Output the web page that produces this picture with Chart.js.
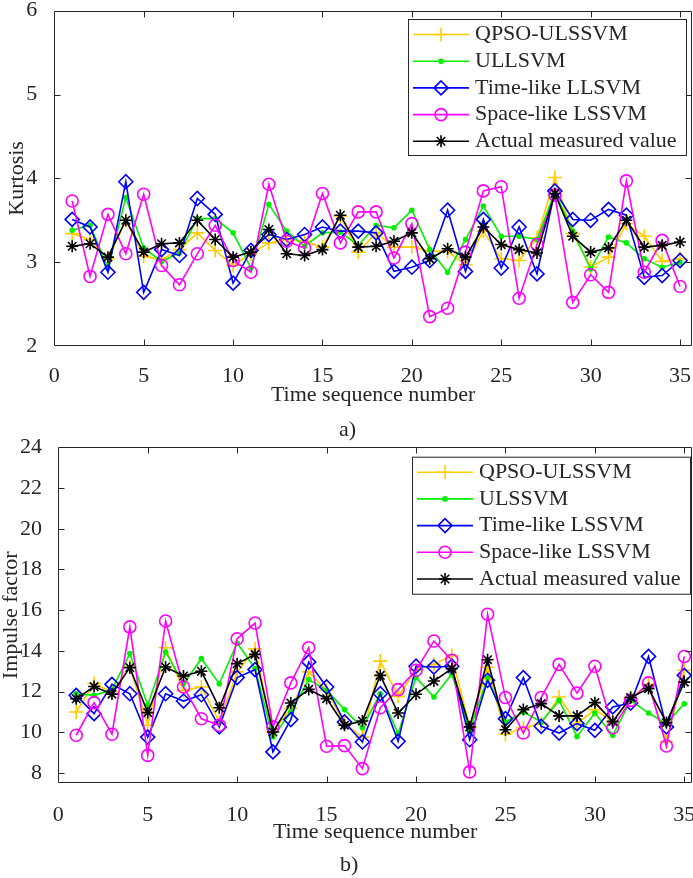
<!DOCTYPE html>
<html><head><meta charset="utf-8">
<script src="https://cdn.jsdelivr.net/npm/chart.js@4.4.1/dist/chart.umd.min.js"></script>
<style>
html,body{margin:0;padding:0;background:#fff;}
body{width:693px;height:878px;overflow:hidden;position:relative;font-family:"Liberation Serif","Times New Roman",serif;}
#c1{position:absolute;left:0;top:0;}
#c2{position:absolute;left:0;top:436px;}
.lab{position:absolute;font-size:22px;line-height:25px;color:#262626;font-family:"Liberation Serif","Times New Roman",serif;}
</style></head><body>
<canvas id="c1" width="693" height="436"></canvas>
<canvas id="c2" width="693" height="442"></canvas>
<div class="lab" style="left:339px;top:416px">a)</div>
<div class="lab" style="left:340px;top:851px">b)</div>
<script>
// ---------- data ----------
const seqNo = [1,2,3,4,5,6,7,8,9,10,11,12,13,14,15,16,17,18,19,20,21,22,23,24,25,26,27,28,29,30,31,32,33,34,35];
const xTicks = [0,5,10,15,20,25,30,35];

// a) Kurtosis
const kurtTicks = [2,3,4,5,6];
const kurtLabels = ['QPSO-ULSSVM','ULLSVM','Time-like LLSVM','Space-like LSSVM','Actual measured value'];
const qpsoK  = [3.34,3.27,3.04,3.50,3.07,3.03,3.15,3.35,3.14,2.96,3.10,3.23,3.27,3.25,3.18,3.55,3.12,3.35,3.18,3.18,3.13,3.13,2.97,3.37,3.04,3.02,3.29,4.01,3.34,2.94,3.06,3.46,3.31,3.01,3.04];
const ullK   = [3.38,3.44,2.93,3.77,3.17,3.01,3.11,3.52,3.52,3.35,2.93,3.69,3.37,3.19,3.35,3.36,3.20,3.44,3.41,3.62,3.15,2.88,3.27,3.67,3.31,3.31,3.27,3.84,3.37,2.92,3.30,3.23,3.04,2.94,3.00];
const timeK  = [3.51,3.42,2.88,3.96,2.64,3.15,3.08,3.76,3.57,2.75,3.14,3.33,3.27,3.33,3.42,3.37,3.37,3.35,2.89,2.94,3.02,3.62,2.89,3.51,2.93,3.42,2.86,3.85,3.51,3.50,3.63,3.56,2.82,2.84,3.02];
const spaceK = [3.73,2.83,3.57,3.10,3.81,2.96,2.73,3.10,3.44,3.02,2.88,3.93,3.25,3.17,3.82,3.23,3.60,3.60,3.05,3.46,2.35,2.45,3.12,3.85,3.90,2.57,3.21,3.80,2.52,2.85,2.64,3.97,2.88,3.26,2.71];
const actualK= [3.19,3.22,3.06,3.50,3.12,3.22,3.23,3.50,3.27,3.06,3.12,3.39,3.10,3.08,3.15,3.56,3.18,3.19,3.25,3.35,3.04,3.16,3.06,3.42,3.21,3.15,3.11,3.82,3.31,3.12,3.17,3.50,3.18,3.20,3.24];

// b) Impulse factor
const impTicks = [8,10,12,14,16,18,20,22,24];
const impLabels = ['QPSO-ULSSVM','ULSSVM','Time-like LSSVM','Space-like LSSVM','Actual measured value'];
const qpsoI  = [11.0,12.4,11.98,13.21,10.35,14.16,12.05,12.23,10.51,12.97,14.11,10.02,11.17,12.97,12.07,10.43,9.77,13.5,11.77,13.05,13.34,13.77,10.27,13.2,9.91,10.23,10.43,11.74,10.43,11.12,10.51,11.71,12.36,9.53,13.05];
const ulsI   = [11.9,11.82,12.1,13.87,11.33,13.95,12.39,13.62,12.39,14.39,13.13,9.77,11.0,12.59,12.07,11.12,10.23,11.9,9.94,12.69,11.74,12.87,10.10,12.69,10.51,11.0,10.51,11.57,9.80,10.95,9.86,11.57,10.95,10.43,11.41];
const timeI  = [11.82,10.92,12.36,11.9,9.77,11.9,11.54,11.85,10.27,12.69,13.08,9.04,10.63,13.46,12.23,10.51,9.53,11.9,9.56,13.25,13.21,13.25,9.64,12.56,10.67,12.69,10.30,9.97,10.43,10.10,11.25,11.44,13.73,10.27,12.80];
const spaceI = [9.86,11.46,9.91,15.18,8.87,15.47,12.23,10.67,10.35,14.6,15.37,10.27,12.43,14.16,9.32,9.35,8.22,11.21,12.10,13.05,14.49,13.54,8.06,15.8,11.71,9.97,11.71,13.34,11.93,13.25,10.23,11.57,12.43,9.33,13.73];
const actualI= [11.65,12.25,11.88,13.18,10.97,13.21,12.77,13.0,11.21,13.37,13.83,10.02,11.44,12.11,11.66,10.35,10.56,12.80,10.95,11.87,12.52,13.13,10.27,13.57,10.13,11.12,11.41,10.81,10.81,11.46,10.54,11.71,12.15,10.48,12.47];

// ---------- styles ----------
const AX = '#262626';
const FONT = '"Liberation Serif","Times New Roman",serif';
const styles = [
  {color:'#FFCC00', pointStyle:'cross',   radius:7, fill:'rgba(0,0,0,0)', order:5},
  {color:'#00F000', pointStyle:'circle',  radius:2, fill:'#00F000',       order:4},
  {color:'#0000FF', pointStyle:'rectRot', radius:7, fill:'rgba(0,0,0,0)', order:3},
  {color:'#FF00FF', pointStyle:'circle',  radius:6, fill:'rgba(0,0,0,0)', order:2},
  {color:'#000000', pointStyle:'star',    radius:6, fill:'rgba(0,0,0,0)', order:1}
];

function makeSets(labels, series){
  return series.map((vals,i)=>({
    label: labels[i],
    data: seqNo.map((s,j)=>({x:s, y:vals[j]})),
    borderColor: styles[i].color,
    backgroundColor: styles[i].fill,
    pointBackgroundColor: styles[i].fill,
    pointBorderColor: styles[i].color,
    pointStyle: styles[i].pointStyle,
    pointRadius: styles[i].radius,
    pointBorderWidth: 1.6,
    borderWidth: 1.6,
    tension: 0,
    order: styles[i].order
  }));
}

// ---------- MATLAB-like box, inward ticks and legend ----------
function drawMarker(ctx, style, r, x, y, stroke, fill){
  ctx.save();
  ctx.strokeStyle = stroke; ctx.fillStyle = fill; ctx.lineWidth = 1.6;
  if (Chart.helpers && Chart.helpers.drawPoint) {
    Chart.helpers.drawPoint(ctx, {pointStyle:style, radius:r, borderWidth:1.6, rotation:0}, x, y);
  }
  ctx.restore();
}
const matlabBox = {
  id:'matlabBox',
  afterDraw(chart, args, o){
    const {ctx, chartArea:a} = chart;
    const xs = chart.scales.x, ys = chart.scales.y;
    ctx.save();
    ctx.strokeStyle = AX; ctx.lineWidth = 1;
    const L = Math.round(a.left)+0.5, R = Math.round(a.right)-0.5, T = Math.round(a.top)+0.5, B = Math.round(a.bottom)-0.5;
    ctx.beginPath();
    ctx.moveTo(L,T); ctx.lineTo(R,T); ctx.lineTo(R,B); ctx.lineTo(L,B); ctx.closePath();
    const tl = 6;
    xs.ticks.forEach(t=>{
      const px = Math.round(xs.getPixelForValue(t.value))+0.5;
      if (px <= L+1 || px >= R-1) return;
      ctx.moveTo(px,B); ctx.lineTo(px,B-tl);
      ctx.moveTo(px,T); ctx.lineTo(px,T+tl);
    });
    ys.ticks.forEach(t=>{
      const py = Math.round(ys.getPixelForValue(t.value))+0.5;
      if (py <= T+1 || py >= B-1) return;
      ctx.moveTo(L,py); ctx.lineTo(L+tl,py);
      ctx.moveTo(R,py); ctx.lineTo(R-tl,py);
    });
    ctx.stroke();

    // legend
    const lx = o.left, ly = o.top;
    ctx.fillStyle = '#fff';
    ctx.fillRect(lx, ly, o.width, o.height);
    ctx.strokeStyle = AX; ctx.lineWidth = 1;
    ctx.strokeRect(lx+0.5, ly+0.5, o.width, o.height);
    chart.data.datasets.forEach((ds,i)=>{
      const cy = ly + o.first + i*o.gap;
      ctx.strokeStyle = ds.borderColor; ctx.lineWidth = ds.borderWidth;
      ctx.beginPath(); ctx.moveTo(lx+5, cy); ctx.lineTo(lx+61, cy); ctx.stroke();
      drawMarker(ctx, ds.pointStyle, ds.pointRadius, lx+33, cy, ds.borderColor, ds.pointBackgroundColor);
      ctx.fillStyle = AX; ctx.font = '22px ' + FONT; ctx.textBaseline = 'middle'; ctx.textAlign = 'left';
      ctx.fillText(ds.label, lx+67, cy);
    });
    ctx.restore();
  }
};

function build(id, sets, c){
  return new Chart(document.getElementById(id), {
    type:'line',
    data:{datasets:sets},
    options:{
      responsive:false, animation:false, events:[],
      layout:{autoPadding:false, padding:{top:c.padTop, right:c.padRight, left:0, bottom:0}},
      plugins:{legend:{display:false}, tooltip:{enabled:false}, matlabBox:c.legend},
      scales:{
        x:{
          type:'linear', min:0, max:c.xMax,
          grid:{display:false}, border:{display:false},
          ticks:{font:{family:FONT,size:22}, color:AX, padding:c.xTickPad, autoSkip:false, maxRotation:0, includeBounds:false},
          afterBuildTicks:s=>{ s.ticks = xTicks.map(v=>({value:v})); },
          afterFit:s=>{ s.height = c.xAxisH; s.paddingLeft = 0; s.paddingRight = 0; },
          title:{display:true, text:'Time sequence number', color:AX, font:{family:FONT,size:22,lineHeight:1}, padding:{top:0,bottom:c.xTitlePad}}
        },
        y:{
          type:'linear', min:c.yMin, max:c.yMax,
          grid:{display:false}, border:{display:false},
          ticks:{font:{family:FONT,size:22}, color:AX, padding:c.yTickPad, includeBounds:false},
          afterBuildTicks:s=>{ s.ticks = c.yTicks.map(v=>({value:v})); },
          afterFit:s=>{ s.width = c.yAxisW; s.paddingTop = 0; s.paddingBottom = 0; },
          title:{display:true, text:c.yTitle, color:AX, font:{family:FONT,size:22,lineHeight:1}, padding:{top:c.yTitlePad,bottom:0}}
        }
      }
    },
    plugins:[matlabBox]
  });
}

build('c1', makeSets(kurtLabels,[qpsoK,ullK,timeK,spaceK,actualK]), {
  padTop:10.7, padRight:1, xMax:35.67, yMin:2, yMax:6, yTicks:kurtTicks,
  xAxisH:90, xTickPad:9, xTitlePad:30, yAxisW:54.3, yTickPad:9, yTitlePad:6.6, yTitle:'Kurtosis',
  legend:{left:408, top:19, width:278, height:136, first:15.5, gap:26.7}
});
build('c2', makeSets(impLabels,[qpsoI,ulsI,timeI,spaceI,actualI]), {
  padTop:11.3, padRight:1, xMax:35.43, yMin:7.5, yMax:24, yTicks:impTicks,
  xAxisH:94.7, xTickPad:10.5, xTitlePad:34.4, yAxisW:58.3, yTickPad:8.3, yTitlePad:0, yTitle:'Impulse factor',
  legend:{left:412, top:20.7, width:278, height:137, first:15.5, gap:26.7}
});
</script>
</body></html>
